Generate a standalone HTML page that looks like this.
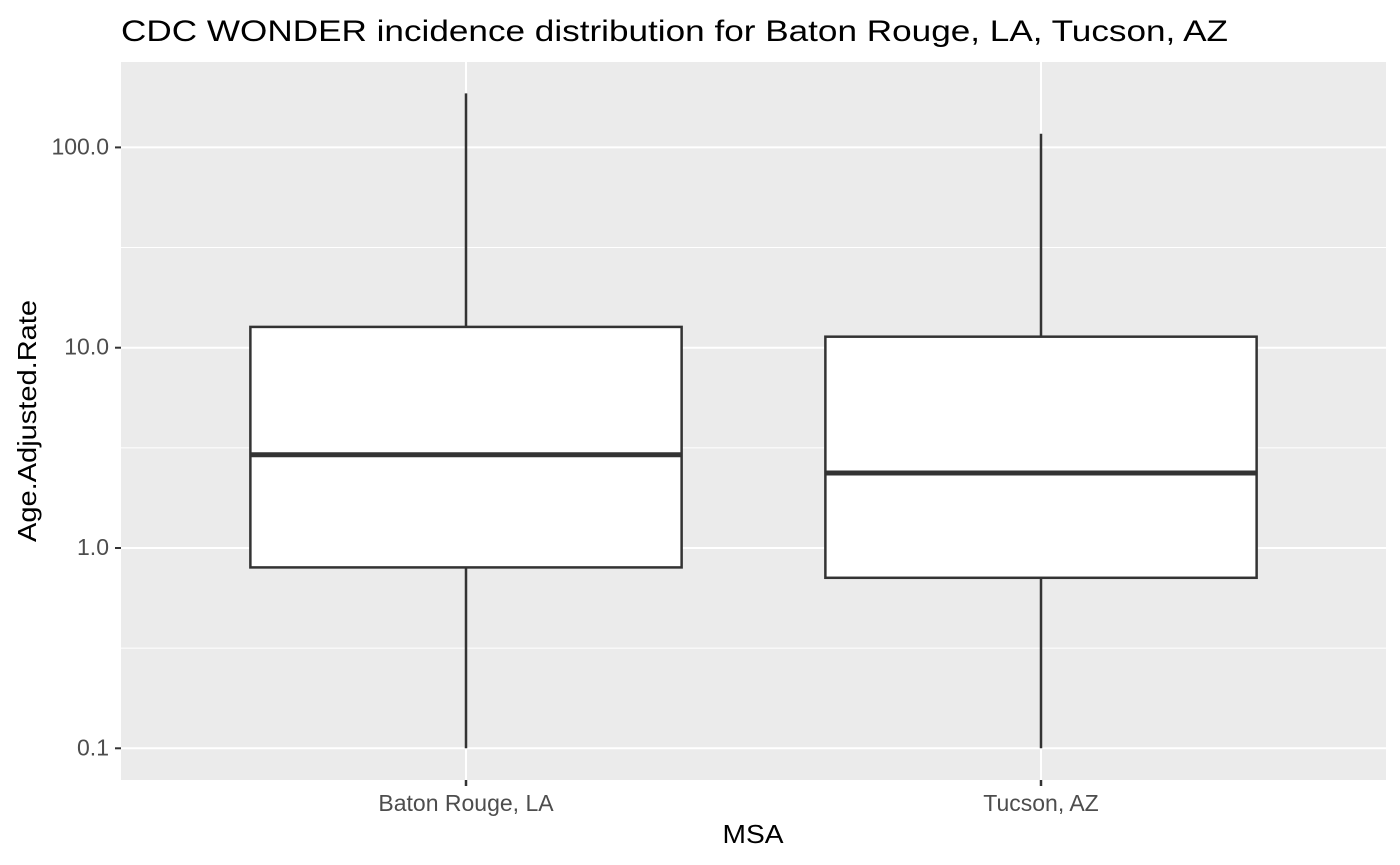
<!DOCTYPE html>
<html><head><meta charset="utf-8"><style>
body{margin:0;background:#fff;}
svg{display:block;font-family:"Liberation Sans",sans-serif;}
</style></head><body>
<svg id="chart" width="1400" height="865">
<text x="121" y="41" font-size="30" textLength="1107" lengthAdjust="spacingAndGlyphs" fill="#000">CDC WONDER incidence distribution for Baton Rouge, LA, Tucson, AZ</text>
<rect x="121" y="62" width="1265" height="718" fill="#ebebeb"/>
<g id="grid"></g><g id="boxes"></g><g id="axes"></g>
<text x="753" y="843" font-size="26" text-anchor="middle" textLength="61" lengthAdjust="spacingAndGlyphs" fill="#000">MSA</text>
<text transform="translate(36,421) rotate(-90)" font-size="26" text-anchor="middle" textLength="242" lengthAdjust="spacingAndGlyphs" fill="#000">Age.Adjusted.Rate</text>
</svg>
<script>
const categories = ["Baton Rouge, LA", "Tucson, AZ"];
const minVals = [0.1, 0.1];
const q1Vals = [0.80, 0.71];
const medianVals = [2.92, 2.37];
const q3Vals = [12.7, 11.35];
const maxVals = [186, 117];
const yTicks = [0.1, 1, 10, 100];
const yTickLabels = ["0.1", "1.0", "10.0", "100.0"];

const NS = "http://www.w3.org/2000/svg";
const left = 121, right = 1386;
function y(v){ return 548 - Math.log10(v) * 200.3; }
const unit = (right - left) / (categories.length - 1 + 1.2);
function x(i){ return left + unit * (i + 0.6); }
const boxW = unit * 0.75;
function mk(tag, attrs, parent){ const e = document.createElementNS(NS, tag); for (const k in attrs) e.setAttribute(k, attrs[k]); parent.appendChild(e); return e; }
const grid = document.getElementById('grid'), boxes = document.getElementById('boxes'), axes = document.getElementById('axes');

for (let i = 0; i < yTicks.length - 1; i++) {
  const mv = Math.sqrt(yTicks[i] * yTicks[i + 1]);
  const l = mk('line', {x1: left, x2: right, y1: y(mv), y2: y(mv), stroke: '#fff', 'stroke-width': 1}, grid);
  
  
}
yTicks.forEach((t, i) => {
  const l = mk('line', {x1: left, x2: right, y1: y(t), y2: y(t), stroke: '#fff', 'stroke-width': 2}, grid);
  
  
  const tk = mk('line', {x1: 115, x2: 121, y1: y(t), y2: y(t), stroke: '#333', 'stroke-width': 2}, axes);
  
  
  const tx = mk('text', {x: 109, y: y(t) + 7, 'font-size': 23, 'text-anchor': 'end', fill: '#4d4d4d'}, axes);
  tx.textContent = yTickLabels[i];
  
  
});
categories.forEach((c, i) => {
  const cx = x(i);
  const g = mk('line', {x1: cx, x2: cx, y1: 62, y2: 780, stroke: '#fff', 'stroke-width': 2}, grid);
  
  
  const grp = mk('g', {}, boxes);
  
  
  mk('line', {x1: cx, x2: cx, y1: y(maxVals[i]), y2: y(q3Vals[i]), stroke: '#333', 'stroke-width': 2.5}, grp);
  mk('line', {x1: cx, x2: cx, y1: y(q1Vals[i]), y2: y(minVals[i]), stroke: '#333', 'stroke-width': 2.5}, grp);
  mk('rect', {x: cx - boxW / 2, y: y(q3Vals[i]), width: boxW, height: y(q1Vals[i]) - y(q3Vals[i]), fill: '#fff', stroke: '#333', 'stroke-width': 2.5}, grp);
  mk('line', {x1: cx - boxW / 2, x2: cx + boxW / 2, y1: y(medianVals[i]), y2: y(medianVals[i]), stroke: '#333', 'stroke-width': 5}, grp);
  const tk = mk('line', {x1: cx, x2: cx, y1: 780, y2: 786, stroke: '#333', 'stroke-width': 2.5}, axes);
  
  
  const tx = mk('text', {x: cx, y: 811, 'font-size': 23, 'text-anchor': 'middle', fill: '#4d4d4d'}, axes);
  tx.textContent = c;
  
  
});
</script>
</body></html>
